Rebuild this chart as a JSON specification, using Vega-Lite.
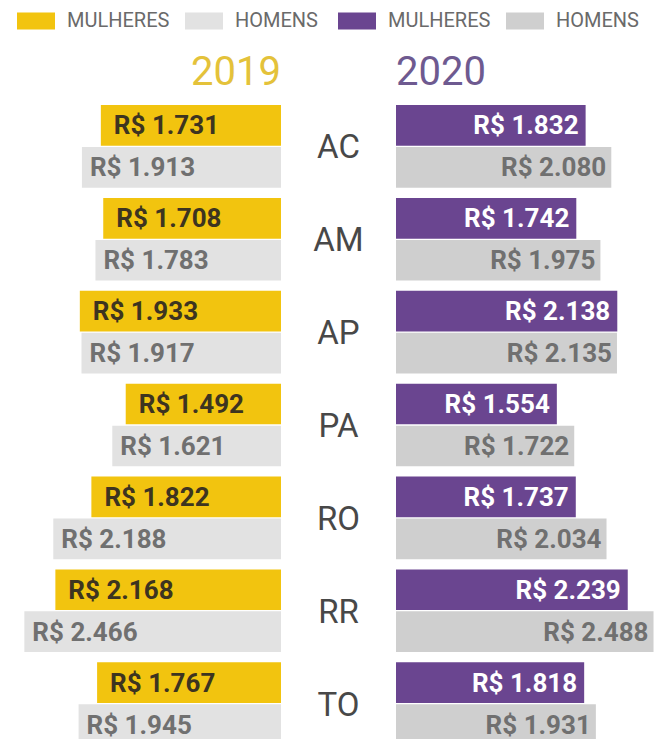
{
  "$schema": "https://vega.github.io/schema/vega-lite/v6.json",
  "padding": {"left": 0, "top": 2, "right": 0, "bottom": 0},
  "background": "white",
  "columns": 3,
  "spacing": 0,
  "bounds": "flush",
  "align": "each",
  "resolve": {"scale": {"color": "independent"}},
  "config": {
    "view": {"stroke": null},
    "locale": {"number": {"decimal": ",", "thousands": ".", "grouping": [3], "currency": ["R$ ", ""]}},
    "legend": {
      "orient": "none",
      "direction": "horizontal",
      "labelFont": "Roboto",
      "labelFontSize": 20,
      "labelColor": "#6A6A6A",
      "symbolType": "M-1,-0.447H1V0.447H-1Z",
      "symbolSize": 1444,
      "symbolStrokeWidth": 0,
      "symbolOpacity": 1,
      "labelOffset": 12,
      "columnPadding": 15,
      "padding": 0
    }
  },
  "datasets": {
    "anos": [{"ano": "2019"}, {"ano": "2020"}],
    "salarios": [
      {"uf": "AC", "ano": 2019, "sexo": "MULHERES", "valor": 1731},
      {"uf": "AC", "ano": 2019, "sexo": "HOMENS", "valor": 1913},
      {"uf": "AM", "ano": 2019, "sexo": "MULHERES", "valor": 1708},
      {"uf": "AM", "ano": 2019, "sexo": "HOMENS", "valor": 1783},
      {"uf": "AP", "ano": 2019, "sexo": "MULHERES", "valor": 1933},
      {"uf": "AP", "ano": 2019, "sexo": "HOMENS", "valor": 1917},
      {"uf": "PA", "ano": 2019, "sexo": "MULHERES", "valor": 1492},
      {"uf": "PA", "ano": 2019, "sexo": "HOMENS", "valor": 1621},
      {"uf": "RO", "ano": 2019, "sexo": "MULHERES", "valor": 1822},
      {"uf": "RO", "ano": 2019, "sexo": "HOMENS", "valor": 2188},
      {"uf": "RR", "ano": 2019, "sexo": "MULHERES", "valor": 2168},
      {"uf": "RR", "ano": 2019, "sexo": "HOMENS", "valor": 2466},
      {"uf": "TO", "ano": 2019, "sexo": "MULHERES", "valor": 1767},
      {"uf": "TO", "ano": 2019, "sexo": "HOMENS", "valor": 1945},
      {"uf": "AC", "ano": 2020, "sexo": "MULHERES", "valor": 1832},
      {"uf": "AC", "ano": 2020, "sexo": "HOMENS", "valor": 2080},
      {"uf": "AM", "ano": 2020, "sexo": "MULHERES", "valor": 1742},
      {"uf": "AM", "ano": 2020, "sexo": "HOMENS", "valor": 1975},
      {"uf": "AP", "ano": 2020, "sexo": "MULHERES", "valor": 2138},
      {"uf": "AP", "ano": 2020, "sexo": "HOMENS", "valor": 2135},
      {"uf": "PA", "ano": 2020, "sexo": "MULHERES", "valor": 1554},
      {"uf": "PA", "ano": 2020, "sexo": "HOMENS", "valor": 1722},
      {"uf": "RO", "ano": 2020, "sexo": "MULHERES", "valor": 1737},
      {"uf": "RO", "ano": 2020, "sexo": "HOMENS", "valor": 2034},
      {"uf": "RR", "ano": 2020, "sexo": "MULHERES", "valor": 2239},
      {"uf": "RR", "ano": 2020, "sexo": "HOMENS", "valor": 2488},
      {"uf": "TO", "ano": 2020, "sexo": "MULHERES", "valor": 1818},
      {"uf": "TO", "ano": 2020, "sexo": "HOMENS", "valor": 1931}
    ]
  },
  "concat": [
    {
      "width": 281,
      "height": 54,
      "data": {"name": "anos"},
      "transform": [{"filter": "datum.ano == '2019'"}],
      "mark": {"type": "text", "align": "right", "baseline": "middle", "font": "Roboto", "fontSize": 40, "color": "#E4C23A"},
      "encoding": {
        "x": {"datum": 0, "type": "quantitative", "axis": null, "scale": {"domain": [0, 2700], "reverse": true}},
        "text": {"field": "ano", "type": "nominal"}
      }
    },
    {
      "width": 115,
      "height": 54,
      "data": {"name": "anos"},
      "transform": [{"filter": "datum.ano == 'nenhum'"}],
      "mark": {"type": "text"},
      "encoding": {"text": {"field": "ano", "type": "nominal"}}
    },
    {
      "width": 260,
      "height": 54,
      "data": {"name": "anos"},
      "transform": [{"filter": "datum.ano == '2020'"}],
      "mark": {"type": "text", "align": "left", "baseline": "middle", "font": "Roboto", "fontSize": 40, "color": "#6E5A90"},
      "encoding": {
        "x": {"datum": 0, "type": "quantitative", "axis": null, "scale": {"domain": [0, 2512]}},
        "text": {"field": "ano", "type": "nominal"}
      }
    },
    {
      "width": 281,
      "height": 650,
      "data": {"name": "salarios"},
      "transform": [{"filter": "datum.ano == 2019"}],
      "encoding": {
        "y": {"field": "uf", "type": "nominal", "axis": null, "scale": {"paddingInner": 0.11, "paddingOuter": 0.055}},
        "yOffset": {"field": "sexo", "type": "nominal", "sort": ["MULHERES", "HOMENS"], "scale": {"paddingInner": 0.03, "paddingOuter": 0}},
        "x": {"field": "valor", "type": "quantitative", "axis": null, "scale": {"domain": [0, 2700], "reverse": true}}
      },
      "layer": [
        {
          "mark": {"type": "bar"},
          "encoding": {
            "color": {
              "field": "sexo", "type": "nominal",
              "scale": {"domain": ["MULHERES", "HOMENS"], "range": ["#F2C40F", "#E2E2E2"]},
              "legend": {"title": null, "orient": "none", "legendX": 17, "legendY": -98}
            }
          }
        },
        {
          "transform": [{"filter": "datum.sexo == 'MULHERES'"}],
          "mark": {"type": "text", "align": "left", "baseline": "middle", "dx": 13, "dy": 1, "font": "Roboto", "fontSize": 26, "fontWeight": "bold", "color": "#3D3420"},
          "encoding": {"text": {"field": "valor", "type": "quantitative", "format": "$,.0f"}}
        },
        {
          "transform": [{"filter": "datum.sexo == 'HOMENS'"}],
          "mark": {"type": "text", "align": "left", "baseline": "middle", "dx": 8, "dy": 1, "font": "Roboto", "fontSize": 26, "fontWeight": "bold", "color": "#707070"},
          "encoding": {"text": {"field": "valor", "type": "quantitative", "format": "$,.0f"}}
        }
      ]
    },
    {
      "width": 115,
      "height": 650,
      "data": {"name": "salarios"},
      "transform": [{"filter": "datum.ano == 2019 && datum.sexo == 'MULHERES'"}],
      "mark": {"type": "text", "baseline": "middle", "dy": 2, "font": "Roboto", "fontSize": 33, "color": "#484848"},
      "encoding": {
        "y": {"field": "uf", "type": "nominal", "axis": null, "scale": {"paddingInner": 0.11, "paddingOuter": 0.055}},
        "text": {"field": "uf", "type": "nominal"}
      }
    },
    {
      "width": 260,
      "height": 650,
      "data": {"name": "salarios"},
      "transform": [{"filter": "datum.ano == 2020"}],
      "encoding": {
        "y": {"field": "uf", "type": "nominal", "axis": null, "scale": {"paddingInner": 0.11, "paddingOuter": 0.055}},
        "yOffset": {"field": "sexo", "type": "nominal", "sort": ["MULHERES", "HOMENS"], "scale": {"paddingInner": 0.03, "paddingOuter": 0}},
        "x": {"field": "valor", "type": "quantitative", "axis": null, "scale": {"domain": [0, 2512]}}
      },
      "layer": [
        {
          "mark": {"type": "bar"},
          "encoding": {
            "color": {
              "field": "sexo", "type": "nominal",
              "scale": {"domain": ["MULHERES", "HOMENS"], "range": ["#6A4590", "#CFCFCF"]},
              "legend": {"title": null, "orient": "none", "legendX": -58, "legendY": -98}
            }
          }
        },
        {
          "transform": [{"filter": "datum.sexo == 'MULHERES'"}],
          "mark": {"type": "text", "align": "right", "baseline": "middle", "dx": -7, "dy": 1, "font": "Roboto", "fontSize": 26, "fontWeight": "bold", "color": "#FFFFFF"},
          "encoding": {"text": {"field": "valor", "type": "quantitative", "format": "$,.0f"}}
        },
        {
          "transform": [{"filter": "datum.sexo == 'HOMENS'"}],
          "mark": {"type": "text", "align": "right", "baseline": "middle", "dx": -5, "dy": 1, "font": "Roboto", "fontSize": 26, "fontWeight": "bold", "color": "#707070"},
          "encoding": {"text": {"field": "valor", "type": "quantitative", "format": "$,.0f"}}
        }
      ]
    }
  ]
}
